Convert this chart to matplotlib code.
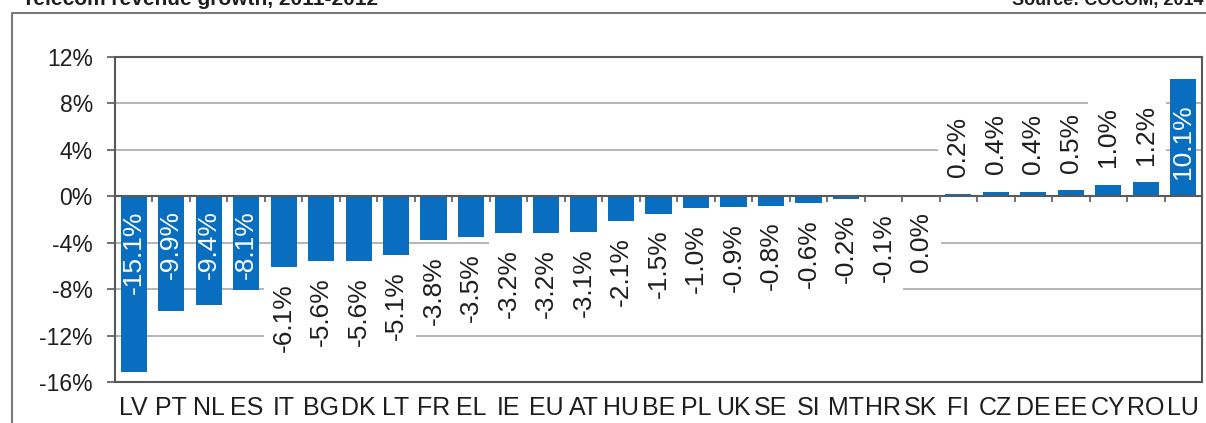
import matplotlib
matplotlib.use("Agg")
import matplotlib.pyplot as plt
from matplotlib.lines import Line2D
import numpy as np

# telecom revenue growth per country, 2011-2012
countries = ['LV', 'PT', 'NL', 'ES', 'IT', 'BG', 'DK', 'LT', 'FR', 'EL', 'IE', 'EU', 'AT', 'HU', 'BE',
             'PL', 'UK', 'SE', 'SI', 'MT', 'HR', 'SK', 'FI', 'CZ', 'DE', 'EE', 'CY', 'RO', 'LU']
growth = [-15.1, -9.9, -9.4, -8.1, -6.1, -5.6, -5.6, -5.1, -3.8, -3.5, -3.2, -3.2, -3.1, -2.1, -1.5,
          -1.0, -0.9, -0.8, -0.6, -0.2, -0.1, 0.0, 0.2, 0.4, 0.4, 0.5, 1.0, 1.2, 10.1]
yticks = [12, 8, 4, 0, -4, -8, -12, -16]

title_left = 'Telecom revenue growth, 2011-2012'
title_right = 'Source: COCOM, 2014'

W, H = 1206, 423
BLUE = '#0A6EC0'
AXC = '#595959'
TXT = '#1e1e1e'

plt.rcParams['font.family'] = ['Liberation Sans', 'DejaVu Sans']

fig = plt.figure(figsize=(W / 100, H / 100), dpi=100)
ax = fig.add_axes([115 / W, 1 - 382 / H, (1202 - 115) / W, (382 - 57) / H])

x = np.arange(len(countries))
ax.bar(x, growth, width=0.7, color=BLUE, zorder=2)
ax.set_xlim(-0.5, len(countries) - 0.5)
ax.set_ylim(min(yticks), max(yticks))

ax.set_yticks(yticks)
ax.set_yticklabels([f'{t}%' for t in yticks])
ax.set_xticks(x)
ax.set_xticklabels(countries)
ax.tick_params(axis='y', length=6, width=1.2, color=AXC, pad=10, labelsize=16.5, labelcolor=TXT)
ax.tick_params(axis='x', length=0, pad=10, labelsize=18, labelcolor=TXT)
ax.yaxis.grid(True, color='#b5b5b5', lw=1.4, zorder=0)
ax.set_axisbelow(True)
for s in ax.spines.values():
    s.set_color(AXC)
    s.set_linewidth(1.5)

# data labels: big bars get it inside, the rest outside with a white box
box = dict(boxstyle='square,pad=0.3', fc='white', ec='none')
for i, v in enumerate(growth):
    txt = f'{v:.1f}%'
    if abs(v) > 7:
        if v < 0:
            ax.annotate(txt, (i, 0), xytext=(0, -10), textcoords='offset points', rotation=90,
                        ha='center', va='top', color='white', fontsize=19, zorder=4)
        else:
            ax.annotate(txt, (i, 0), xytext=(0, 12.5), textcoords='offset points', rotation=90,
                        ha='center', va='bottom', color='white', fontsize=19, zorder=4)
    elif v > 0:
        ax.annotate(txt, (i, v), xytext=(0, 12.5), textcoords='offset points', rotation=90,
                    ha='center', va='bottom', color=TXT, fontsize=19, bbox=box, zorder=3)
    else:
        ax.annotate(txt, (i, v), xytext=(0, -11.5), textcoords='offset points', rotation=90,
                    ha='center', va='top', color=TXT, fontsize=19, bbox=box, zorder=3)

# zero line with the small category ticks on it
ax2 = ax.twiny()
ax2.set_xlim(ax.get_xlim())
ax2.spines['bottom'].set_position(('data', 0))
for s in ['top', 'left', 'right']:
    ax2.spines[s].set_visible(False)
ax2.spines['bottom'].set_color(AXC)
ax2.spines['bottom'].set_linewidth(1.5)
ax2.xaxis.set_ticks_position('bottom')
ax2.set_xticks(np.arange(len(countries) + 1) - 0.5)
ax2.tick_params(axis='x', direction='out', length=4, width=1.2, color=AXC,
                labelbottom=False, labeltop=False)

# outer frame (right and bottom sides fall outside the picture)
fx, fy = 12 / W, 1 - 13 / H
fig.add_artist(Line2D([fx, fx, 1.01], [-0.05, fy, fy], transform=fig.transFigure,
                      color='#7a7a7a', lw=1.5))

# header sits mostly above the cropped top edge, as in the source
fig.text(22 / W, 1 - 5 / H, title_left, fontsize=15, fontweight='bold', va='baseline', color=TXT)
fig.text(1203 / W, 1 - 5 / H, title_right, fontsize=13, fontweight='bold', va='baseline',
         ha='right', color=TXT)

fig.savefig('out.png', dpi=100)
